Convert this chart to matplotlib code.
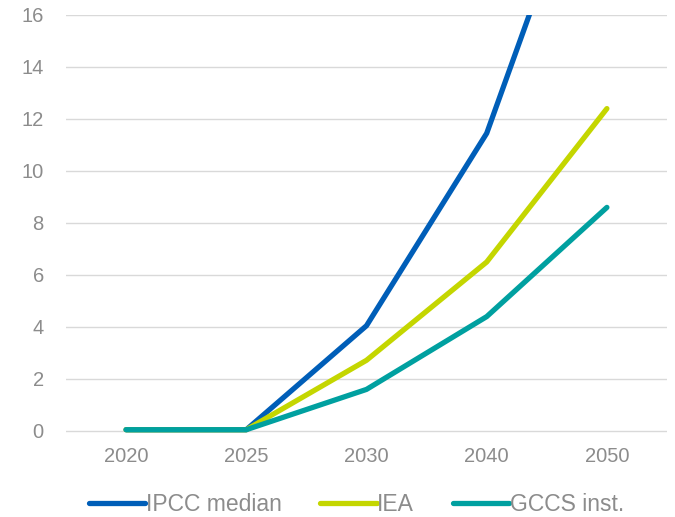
import matplotlib
matplotlib.use('Agg')
import matplotlib.pyplot as plt

# Données
years = ['2020', '2025', '2030', '2040', '2050']
ipcc = [0.05, 0.05, 4.05, 11.45, 24.3]
iea = [0.05, 0.05, 2.72, 6.5, 12.4]
gccs = [0.05, 0.05, 1.6, 4.4, 8.6]
yticks = [0, 2, 4, 6, 8, 10, 12, 14, 16]

plt.rcParams['font.family'] = ['Liberation Sans', 'DejaVu Sans']
grey = '#8c8c8c'

# axe : 0 à y=431 px, 16 à y=15 px (26 px par unité)
fig = plt.figure(figsize=(6.75, 5.17), dpi=100)
ax = fig.add_axes([66 / 675, 1 - 444 / 517, 601 / 675, 429 / 517])

x = range(len(years))
ax.plot(x, ipcc, color='#005EB8', lw=3.8, solid_capstyle='round', label='IPCC median')
ax.plot(x, iea, color='#C4D600', lw=3.8, solid_capstyle='round', label='IEA')
ax.plot(x, gccs, color='#00A0A0', lw=3.8, solid_capstyle='round', label='GCCS inst.')

ax.set_xlim(-0.5, len(years) - 0.5)
ax.set_ylim(-0.5, 16)
ax.set_xticks(list(x))
ax.set_xticklabels(years)
ax.set_yticks(yticks)
ax.yaxis.grid(True, color='#d9d9d9', lw=1)
ax.set_axisbelow(True)
for s in ax.spines.values():
    s.set_visible(False)
ax.tick_params(length=0, labelsize=14.5, colors=grey, pad=2)
ax.tick_params(axis='y', pad=16)

leg = fig.legend(loc='lower center', bbox_to_anchor=(0.528, -0.038), ncol=3, frameon=False,
                 fontsize=16.5, handlelength=2.45, handletextpad=0.03, columnspacing=1.7)
for t in leg.get_texts():
    t.set_color(grey)

fig.savefig('out.png', dpi=100)
